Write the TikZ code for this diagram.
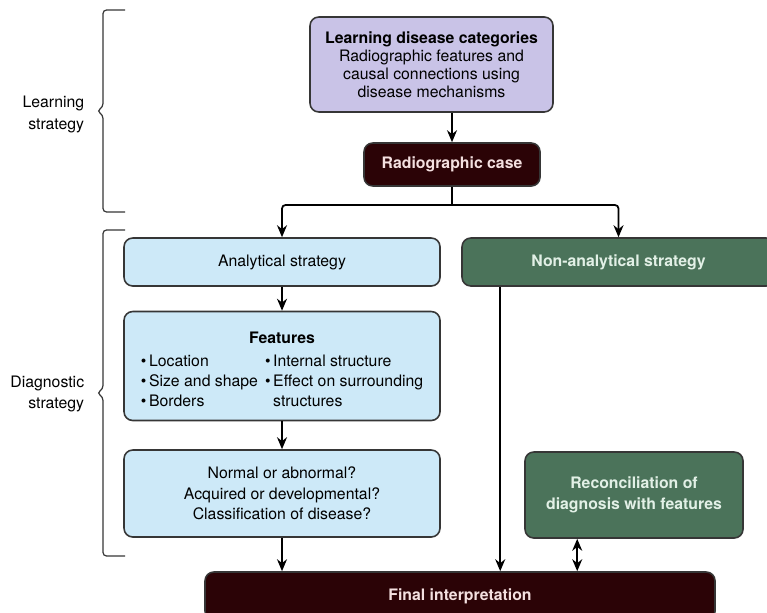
\documentclass[tikz,border=0pt]{standalone}
\usepackage{fontspec}
\setmainfont{TeX Gyre Heros}
\usetikzlibrary{arrows.meta,positioning,calc}
\definecolor{lavbox}{HTML}{C9C3E7}
\definecolor{skybox}{HTML}{CDE9F8}
\definecolor{pinegreen}{HTML}{4B735A}
\definecolor{darkwine}{HTML}{2B0306}
\definecolor{edgegray}{HTML}{363636}
\definecolor{palewine}{HTML}{F4E0E0}
\definecolor{palepine}{HTML}{E2F0E6}
\tikzset{
  >={Stealth[length=2.4mm,width=2mm]},
  % boxes
  box/.style={draw=edgegray,line width=0.9pt,rounded corners=5pt,inner sep=2pt,
              align=center,font=\fontsize{9}{11.6}\selectfont},
  lav/.style={box,fill=lavbox,font=\fontsize{9}{10.3}\selectfont},
  sky/.style={box,fill=skybox},
  pine/.style={box,fill=pinegreen,text=palepine,font=\fontsize{9}{11.8}\selectfont\bfseries},
  wine/.style={box,fill=darkwine,text=palewine,font=\fontsize{9}{11}\selectfont\bfseries},
  % lines
  link/.style={->,line width=1pt},
  bracket/.style={draw=edgegray,line width=0.7pt,rounded corners=2pt},
  side/.style={align=right,anchor=east,inner sep=0pt,font=\fontsize{9}{12}\selectfont},
}
\begin{document}
\begin{tikzpicture}
\useasboundingbox (0,0) rectangle (15.34,-12.24);
  \node[lav,minimum width=4.86cm,minimum height=1.9cm] (learn) at (8.63,-1.29)
    {\textbf{Learning disease categories}\\Radiographic features and\\
     causal connections using\\disease mechanisms};
  \node[wine,minimum width=3.52cm,minimum height=0.86cm] (case) at (9.04,-3.29) {Radiographic case};
  \node[sky,minimum width=6.32cm,minimum height=0.96cm] (ana) at (5.64,-5.24) {Analytical strategy};
  \node[pine,minimum width=6.26cm,minimum height=0.96cm] (nonana) at (12.37,-5.24) {Non-analytical strategy};
  \node[sky,minimum width=6.32cm,minimum height=2.18cm] (feat) at (5.64,-7.32)
    {\rule{0pt}{14pt}\textbf{Features}\\[3.5pt]
     \begin{tabular}{@{}l@{\hspace{4pt}}l@{}}
       \textbullet\,Location & \textbullet\,Internal structure\\
       \textbullet\,Size and shape & \textbullet\,Effect on surrounding\\
       \textbullet\,Borders & \phantom{\textbullet\,}structures
     \end{tabular}};
  \node[sky,minimum width=6.32cm,minimum height=1.74cm] (quest) at (5.64,-9.87)
    {Normal or abnormal?\\Acquired or developmental?\\Classification of disease?};
  \node[pine,minimum width=4.36cm,minimum height=1.72cm] (recon) at (12.68,-9.9)
    {Reconciliation of\\diagnosis with features};
  \node[wine,minimum width=10.2cm,minimum height=0.96cm] (final) at (9.2,-11.92) {Final interpretation};
  % brackets and side labels
  \coordinate (lt) at (2.5,-0.2);
  \coordinate (lb) at (2.5,-4.24);
  \coordinate (dt) at (2.5,-4.6);
  \coordinate (db) at (2.5,-11.12);
  \draw[bracket] (lt) -- (2.06,-0.2) -- (2.06,-2.14) -- (1.94,-2.22) -- (2.06,-2.3) -- (2.06,-4.24) -- (lb);
  \draw[bracket] (dt) -- (2.06,-4.6) -- (2.06,-7.78) -- (1.94,-7.86) -- (2.06,-7.94) -- (2.06,-11.12) -- (db);
  \node[side] (lrn) at (1.69,-2.29) {Learning\\strategy};
  \node[side] (dgn) at (1.69,-7.88) {Diagnostic\\strategy};
  % connectors
  \draw[link] (case.north |- learn.south) -- (case.north);
  \coordinate (split) at (9.04,-4.10);
  \draw[line width=1pt] (case.south) -- (split);
  \draw[link,rounded corners=2pt] (split) -| (ana.north);
  \draw[link,rounded corners=2pt] (split) -| (nonana.north);
  \draw[link] (ana) -- (feat);
  \draw[link] (feat) -- (quest);
  \draw[link] (quest.south) -- (quest.south |- final.north);
  \coordinate (drop) at ($(nonana.south west)+(0.78,0)$);
  \draw[link] (drop) -- (drop |- final.north);
  \coordinate (back) at ($(recon.south west)+(1.06,0)$);
  \draw[<->,line width=1pt] (back) -- (back |- final.north);
\end{tikzpicture}
\end{document}
